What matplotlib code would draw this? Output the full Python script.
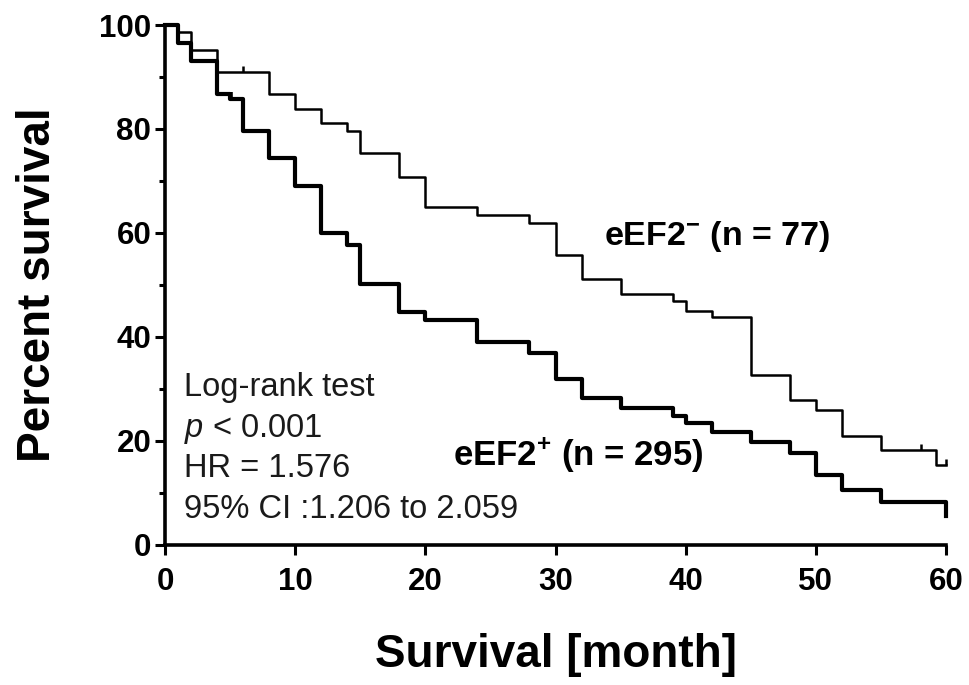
import matplotlib
matplotlib.use('Agg')
import matplotlib.pyplot as plt
from matplotlib.ticker import MultipleLocator

plt.rcParams['font.family'] = ['Liberation Sans', 'DejaVu Sans']
plt.rcParams['mathtext.fontset'] = 'custom'
plt.rcParams['mathtext.rm'] = 'Liberation Sans'
plt.rcParams['mathtext.it'] = 'Liberation Sans:italic'
plt.rcParams['mathtext.bf'] = 'Liberation Sans:bold'

# ── data ─────────────────────────────────────────────────────────────────────
# eEF2- (n = 77), thin line
neg_months = [0, 1, 2, 4, 8, 10, 12, 14, 15, 18, 20, 24, 28, 30, 32, 35, 39,
              40, 42, 45, 48, 50, 52, 55, 59.2, 60]
neg_surv = [100, 98.7, 95.1, 90.9, 86.7, 83.8, 81.2, 79.6, 75.3, 70.8, 65.0,
            63.5, 61.9, 55.8, 51.2, 48.3, 47.0, 45.0, 43.8, 32.6, 27.9, 25.9,
            21.0, 18.2, 15.3, 15.3]
neg_cens_months = [6, 58.1, 60]
neg_cens_surv = [90.9, 18.2, 15.3]

# eEF2+ (n = 295), thick line
pos_months = [0, 1, 2, 4, 5, 6, 8, 10, 12, 14, 15, 18, 20, 24, 28, 30, 32,
              35, 39, 40, 42, 45, 48, 50, 52, 55, 60]
pos_surv = [100, 96.6, 93.0, 86.7, 85.7, 79.7, 74.5, 69.0, 60.0, 57.6, 50.2,
            44.8, 43.3, 39.1, 37.0, 31.9, 28.2, 26.4, 24.8, 23.5, 21.8, 19.9,
            17.6, 13.5, 10.5, 8.2, 5.6]
pos_cens_months = [5.1]
pos_cens_surv = [85.7]

stats_lines = ['Log-rank test', r'$p$ < 0.001', 'HR = 1.576',
               '95% CI :1.206 to 2.059']

fig = plt.figure(figsize=(9.69, 6.85), dpi=100)
ax = fig.add_axes([0.1703, 0.2044, 0.806, 0.7591])

# survival curves
ax.step(neg_months, neg_surv, where='post', color='black', lw=1.8,
        clip_on=False, zorder=3)
ax.step(pos_months, pos_surv, where='post', color='black', lw=3.0,
        clip_on=False, zorder=3)

# censor ticks (short upward strokes)
up_tick = [(0, 0), (0, 1)]
ax.plot(neg_cens_months, neg_cens_surv, ls='none', marker=up_tick,
        ms=8, mew=1.8, color='black', clip_on=False, zorder=3)
ax.plot(pos_cens_months, pos_cens_surv, ls='none', marker=up_tick,
        ms=10, mew=2.6, color='black', clip_on=False, zorder=3)

# ── axes styling (Prism look) ────────────────────────────────────────────────
ax.set_xlim(0, 60)
ax.set_ylim(0, 100)
for side in ('top', 'right'):
    ax.spines[side].set_visible(False)
for side in ('left', 'bottom'):
    ax.spines[side].set_linewidth(2.6)

ax.xaxis.set_major_locator(MultipleLocator(10))
ax.yaxis.set_major_locator(MultipleLocator(20))
ax.yaxis.set_minor_locator(MultipleLocator(10))
ax.tick_params(axis='both', which='major', direction='out', length=7,
               width=2.2, labelsize=22.5, pad=3)
ax.tick_params(axis='x', which='major', pad=9)
ax.tick_params(axis='y', which='minor', direction='out', length=4, width=2.2)
for lab in ax.get_xticklabels() + ax.get_yticklabels():
    lab.set_fontweight('bold')

ax.set_ylabel('Percent survival', fontsize=33, fontweight='bold', labelpad=28)
ax.set_xlabel('Survival [month]', fontsize=33, fontweight='bold', labelpad=26)

# ── annotations ──────────────────────────────────────────────────────────────
ax.text(33.7, 57.6, r'eEF2$^{\mathbf{-}}$ (n = 77)', fontsize=24.5,
        fontweight='bold', ha='left', va='baseline')
ax.text(22.1, 15.4, r'eEF2$^{\mathbf{+}}$ (n = 295)', fontsize=25,
        fontweight='bold', ha='left', va='baseline')

for i, line in enumerate(stats_lines):
    ax.text(1.45, 28.6 - i * 7.8, line, fontsize=23.5, color='#1a1a1a',
            ha='left', va='baseline')

plt.savefig('out.png', dpi=100, facecolor='white')
plt.close()
